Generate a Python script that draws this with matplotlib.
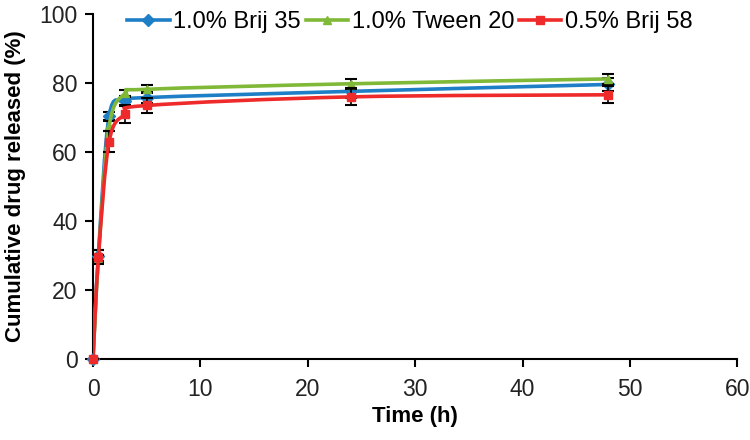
import numpy as np
import matplotlib
matplotlib.use("Agg")
import matplotlib.pyplot as plt
from matplotlib.path import Path
from matplotlib.patches import PathPatch
from matplotlib.lines import Line2D

plt.rcParams['font.family'] = ['Liberation Sans', 'DejaVu Sans']

time_h = [0, 0.5, 1.5, 3, 5, 24, 48]

brij35 = [0, 30.0, 70.5, 74.8, 75.8, 77.6, 79.6]
brij35_err = [0, 1.5, 1.2, 1.5, 1.5, 2.0, 1.8]

tween20 = [0, 29.0, 67.5, 77.0, 78.2, 79.8, 81.2]
tween20_err = [0, 1.2, 1.5, 1.0, 1.2, 1.5, 1.5]

brij58 = [0, 29.5, 63.0, 71.0, 73.5, 76.0, 76.6]
brij58_err = [0, 2.0, 3.0, 2.5, 2.2, 2.5, 2.5]

labels = ["1.0% Brij 35", "1.0% Tween 20", "0.5% Brij 58"]
colors = ["#1f7fc6", "#80b838", "#ee2a2a"]
markers = ["D", "^", "s"]


def smooth_path(x, y):
    # Excel-style smoothed line: cubic bezier through the points
    p = np.column_stack([x, y]).astype(float)
    ext = np.vstack([p[0], p, p[-1]])
    verts = [p[0]]
    codes = [Path.MOVETO]
    for i in range(len(p) - 1):
        c1 = ext[i + 1] + (ext[i + 2] - ext[i]) / 6.0
        c2 = ext[i + 2] - (ext[i + 3] - ext[i + 1]) / 6.0
        verts += [c1, c2, p[i + 1]]
        codes += [Path.CURVE4] * 3
    return Path(verts, codes)


fig = plt.figure(figsize=(7.5, 4.4), dpi=100)
ax = fig.add_axes([0.124, 0.184, 0.859, 0.784])

series = [(brij35, brij35_err), (tween20, tween20_err), (brij58, brij58_err)]
handles = []
for k, (vals, errs) in enumerate(series):
    ax.errorbar(time_h, vals, yerr=errs, fmt="none", ecolor="black",
                elinewidth=1.2, capsize=4, capthick=1.5, zorder=2 + k)
    patch = PathPatch(smooth_path(time_h, vals), facecolor="none",
                      edgecolor=colors[k], lw=2.6, zorder=3 + k,
                      transform=ax.transData)
    ax.add_patch(patch)
    ax.plot(time_h, vals, ls="none", marker=markers[k], ms=6,
            color=colors[k], zorder=3 + k, clip_on=False)
    handles.append(Line2D([], [], color=colors[k], lw=2.6,
                          marker=markers[k], ms=6))

ax.set_xlim(0, 60)
ax.set_ylim(0, 100)
ax.set_xticks(range(0, 61, 10))
ax.set_yticks(range(0, 101, 20))
ax.spines["top"].set_visible(False)
ax.spines["right"].set_visible(False)
ax.spines["left"].set_linewidth(1.5)
ax.spines["bottom"].set_linewidth(1.5)
ax.tick_params(direction="out", length=6, width=1.5, labelsize=16.5,
               labelcolor="#222222")
ax.tick_params(axis="x", pad=8)
ax.tick_params(axis="y", pad=5)

ax.set_xlabel("Time (h)", fontsize=16, fontweight="bold", labelpad=3)
ax.set_ylabel("Cumulative drug released (%)", fontsize=16,
              fontweight="bold", labelpad=10)

ax.legend(handles, labels, loc="upper left", bbox_to_anchor=(0.02, 1.07),
          ncol=3, frameon=False, fontsize=17, handlelength=1.8,
          handletextpad=0.15, columnspacing=0.2)

fig.savefig("out.png", dpi=100)
